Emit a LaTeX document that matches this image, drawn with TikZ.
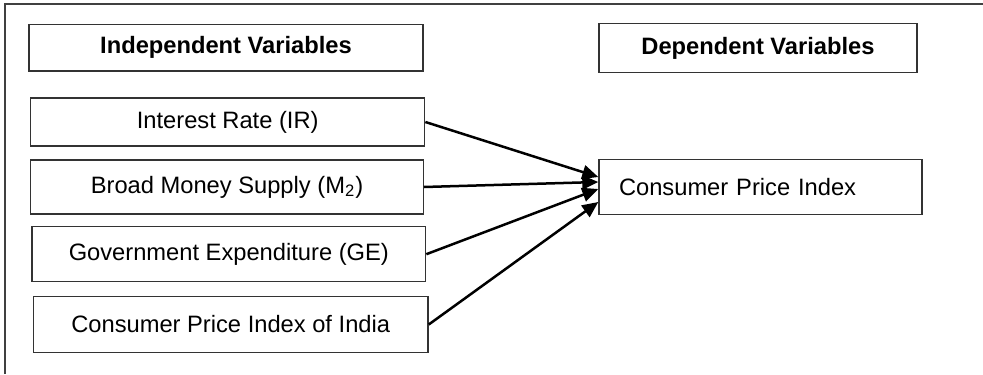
\documentclass[tikz,border=0pt]{standalone}
\usepackage{fontspec}
\setmainfont{Liberation Sans}
\usetikzlibrary{arrows.meta}

\begin{document}
\begin{tikzpicture}[x=0.5pt, y=-0.5pt,
	varbox/.style={draw=black!80, line width=0.7pt, inner sep=0pt, minimum width=197pt,
		font=\fontsize{11.85}{14}\selectfont},
	headbox/.style={varbox, font=\fontsize{11.85}{14}\selectfont\bfseries},
	link/.style={line width=1.25pt, -{Triangle[length=8pt, width=7pt]}}]
	\useasboundingbox (0, 0) rectangle (983, 374);
	% frame
	\draw[line width=0.75pt, black!75] (5, 374) -- (5, 4) -- (983, 4);
	% left column
	\node[headbox, minimum height=23.25pt] (indep) at (226, 47.8) {Independent Variables};
	\node[varbox, minimum height=24pt] (ir) at (227.7, 122) {Interest Rate (IR)};
	\node[varbox, minimum width=196.3pt, minimum height=27pt] (m2) at (227, 187) {Broad Money Supply (M\textsubscript{2})};
	\node[varbox, minimum width=196.85pt, minimum height=27.5pt] (ge) at (228.8, 254.2) {Government Expenditure (GE)};
	\node[varbox, minimum width=197.35pt, minimum height=27.8pt] (cpii) at (230.7, 324.5) {Consumer Price Index of India};
	% right column
	\node[headbox, minimum width=159pt, minimum height=24.7pt] (dep) at (758, 48) {Dependent Variables};
	\node[varbox, minimum width=0pt, text width=141.5pt, inner xsep=10pt, align=left, minimum height=27.5pt] (cpi) at (760.5, 186.8) {Consumer Price Index};
	% links
	\draw[link] (ir.east) -- ([yshift=4.9pt]cpi.west);
	\draw[link] (m2.east) -- ([yshift=2.4pt]cpi.west);
	\draw[link] (ge.east) -- ([yshift=-1.1pt]cpi.west);
	\draw[link] (cpii.east) -- ([yshift=-7.6pt]cpi.west);
\end{tikzpicture}
\end{document}
